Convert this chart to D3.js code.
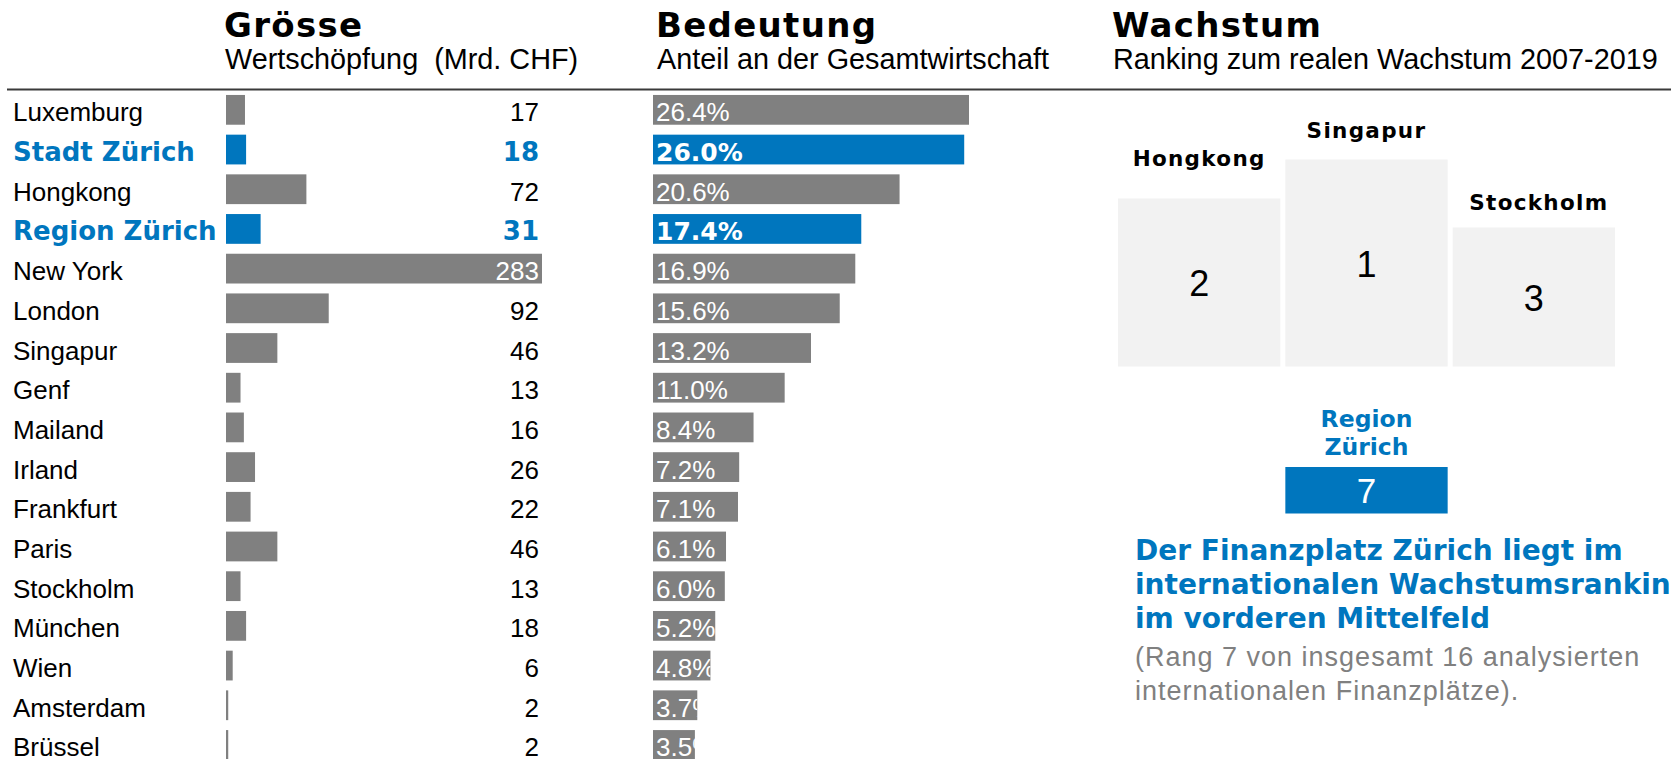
<!DOCTYPE html>
<html>
<head>
<meta charset="utf-8">
<script src="https://d3js.org/d3.v7.min.js"></script>
<style>
  body { margin: 0; background: #fff; }
  svg text { font-family: "Liberation Sans", Arial, sans-serif; }
  svg text.heavy { font-family: "DejaVu Sans", sans-serif; font-weight: bold; }
</style>
</head>
<body>
<svg id="chart" width="1671" height="759"></svg>
<script>
// ---- data ----
const cities = ["Luxemburg", "Stadt Zürich", "Hongkong", "Region Zürich", "New York", "London",
  "Singapur", "Genf", "Mailand", "Irland", "Frankfurt", "Paris", "Stockholm", "München",
  "Wien", "Amsterdam", "Brüssel"]
const wertschoepfung = [17, 18, 72, 31, 283, 92, 46, 13, 16, 26, 22, 46, 13, 18, 6, 2, 2]
const anteil = [26.4, 26.0, 20.6, 17.4, 16.9, 15.6, 13.2, 11.0, 8.4, 7.2, 7.1, 6.1, 6.0, 5.2, 4.8, 3.7, 3.5]
const highlight = ["Stadt Zürich", "Region Zürich"]

const sectionTitles = ["Grösse", "Bedeutung", "Wachstum"]
const sectionSubtitles = ["Wertschöpfung  (Mrd. CHF)", "Anteil an der Gesamtwirtschaft", "Ranking zum realen Wachstum 2007-2019"]

const podiumCities = ["Hongkong", "Singapur", "Stockholm"]
const podiumRanks = [2, 1, 3]
const zurichLabel = ["Region", "Zürich"]
const zurichRank = 7

const noteTitle = ["Der Finanzplatz Zürich liegt im", "internationalen Wachstumsranking", "im vorderen Mittelfeld"]
const noteText = ["(Rang 7 von insgesamt 16 analysierten", "internationalen Finanzplätze)."]

// ---- styles ----
const grey = "#808080", blue = "#0076BE", light = "#F2F2F2"

const svg = d3.select("#chart")

// headers
const headerX = [224, 656, 1112]
svg.selectAll("text.title")
  .data(sectionTitles)
  .join("text")
  .attr("class", "title heavy")
  .attr("x", (d, i) => headerX[i])
  .attr("y", 37)
  .attr("font-size", 34)
  .attr("letter-spacing", 1.3)
  .attr("fill", "#000")
  .text(d => d)

svg.selectAll("text.subtitle")
  .data(sectionSubtitles)
  .join("text")
  .attr("class", "subtitle")
  .attr("x", (d, i) => headerX[i] + 1)
  .attr("y", 69)
  .attr("font-size", 28.8)
  .attr("fill", "#000")
  .style("white-space", "pre")
  .text(d => d)

svg.append("line")
  .attr("x1", 7).attr("x2", 1671)
  .attr("y1", 89.5).attr("y2", 89.5)
  .attr("stroke", "#3a3a3a")
  .attr("stroke-width", 2)

// rows
const rows = cities.map((c, i) => ({ city: c, size: wertschoepfung[i], share: anteil[i], hl: highlight.includes(c) }))

const y = d3.scaleBand().domain(cities).range([90, 764.8]).paddingInner(0.25).paddingOuter(0.125)
const bw = y.bandwidth()
const base = d => y(d.city) + bw / 2 + 11.5

const xSize = d3.scaleLinear().domain([0, d3.max(wertschoepfung)]).range([0, 316])
const xShare = d3.scaleLinear().domain([0, d3.max(anteil)]).range([0, 316])
const sizeX0 = 226, shareX0 = 653

// city labels
svg.selectAll("text.city")
  .data(rows)
  .join("text")
  .attr("class", d => d.hl ? "city heavy" : "city")
  .attr("x", 13)
  .attr("y", base)
  .attr("font-size", 26)
  .attr("fill", d => d.hl ? blue : "#000")
  .text(d => d.city)

// Grösse bars
svg.selectAll("rect.size")
  .data(rows)
  .join("rect")
  .attr("class", "size")
  .attr("x", sizeX0)
  .attr("y", d => y(d.city))
  .attr("width", d => xSize(d.size))
  .attr("height", bw)
  .attr("fill", d => d.hl ? blue : grey)

svg.selectAll("text.sizeval")
  .data(rows)
  .join("text")
  .attr("class", d => d.hl ? "sizeval heavy" : "sizeval")
  .attr("x", 539)
  .attr("y", base)
  .attr("text-anchor", "end")
  .attr("font-size", 26)
  .attr("fill", d => d.hl ? blue : (sizeX0 + xSize(d.size) > 500 ? "#fff" : "#000"))
  .text(d => d.size)

// Bedeutung bars
const defs = svg.append("defs")
defs.selectAll("clipPath")
  .data(rows)
  .join("clipPath")
  .attr("id", (d, i) => "clip" + i)
  .append("rect")
  .attr("x", shareX0)
  .attr("y", d => y(d.city))
  .attr("width", d => xShare(d.share))
  .attr("height", bw)

svg.selectAll("rect.share")
  .data(rows)
  .join("rect")
  .attr("class", "share")
  .attr("x", shareX0)
  .attr("y", d => y(d.city))
  .attr("width", d => xShare(d.share))
  .attr("height", bw)
  .attr("fill", d => d.hl ? blue : grey)

svg.selectAll("text.shareval")
  .data(rows)
  .join("text")
  .attr("class", d => d.hl ? "shareval heavy" : "shareval")
  .attr("clip-path", (d, i) => "url(#clip" + i + ")")
  .attr("x", shareX0 + 3)
  .attr("y", base)
  .attr("font-size", d => d.hl ? 25 : 26)
  .attr("fill", "#fff")
  .text(d => d3.format(".1f")(d.share) + "%")

// Wachstum podium
const px = d3.scaleBand().domain(podiumCities).range([1118, 1615]).paddingInner(0.03)
const podiumH = d3.scaleOrdinal().domain([1, 2, 3]).range([207, 168, 139])
const labelGap = d3.scaleOrdinal().domain([1, 2, 3]).range([22, 33, 18])
const floor = 366.5
const podium = podiumCities.map((c, i) => ({ city: c, rank: podiumRanks[i] }))

const pg = svg.append("g")
pg.selectAll("rect")
  .data(podium)
  .join("rect")
  .attr("x", d => px(d.city))
  .attr("y", d => floor - podiumH(d.rank))
  .attr("width", px.bandwidth())
  .attr("height", d => podiumH(d.rank))
  .attr("fill", light)

pg.selectAll("text.rank")
  .data(podium)
  .join("text")
  .attr("class", "rank")
  .attr("x", d => px(d.city) + px.bandwidth() / 2)
  .attr("y", d => floor - podiumH(d.rank) / 2 + 13.5)
  .attr("text-anchor", "middle")
  .attr("font-size", 36)
  .text(d => d.rank)

pg.selectAll("text.pname")
  .data(podium)
  .join("text")
  .attr("class", "pname heavy")
  .attr("x", d => px(d.city) + px.bandwidth() / 2 + (d.rank === 3 ? 5 : 0))
  .attr("y", d => floor - podiumH(d.rank) - labelGap(d.rank))
  .attr("text-anchor", "middle")
  .attr("font-size", 21.5)
  .attr("letter-spacing", 1.3)
  .text(d => d.city)

// Region Zürich rank
const zx = px("Singapur") + px.bandwidth() / 2
svg.selectAll("text.zlabel")
  .data(zurichLabel)
  .join("text")
  .attr("class", "zlabel heavy")
  .attr("x", zx)
  .attr("y", (d, i) => 426.7 + i * 28.3)
  .attr("text-anchor", "middle")
  .attr("font-size", 23.5)
  .attr("fill", blue)
  .text(d => d)

svg.append("rect")
  .attr("x", px("Singapur"))
  .attr("y", 467)
  .attr("width", px.bandwidth())
  .attr("height", 46.5)
  .attr("fill", blue)

svg.append("text")
  .attr("x", zx)
  .attr("y", 502.7)
  .attr("text-anchor", "middle")
  .attr("font-size", 35)
  .attr("fill", "#fff")
  .text(zurichRank)

// note
svg.selectAll("text.note1")
  .data(noteTitle)
  .join("text")
  .attr("class", "note1 heavy")
  .attr("x", 1135)
  .attr("y", (d, i) => 560 + i * 34)
  .attr("font-size", 28)
  .attr("fill", blue)
  .text(d => d)

svg.selectAll("text.note2")
  .data(noteText)
  .join("text")
  .attr("class", "note2")
  .attr("x", 1135)
  .attr("y", (d, i) => 666 + i * 34)
  .attr("font-size", 27)
  .attr("letter-spacing", 1)
  .attr("fill", grey)
  .text(d => d)
</script>
</body>
</html>
